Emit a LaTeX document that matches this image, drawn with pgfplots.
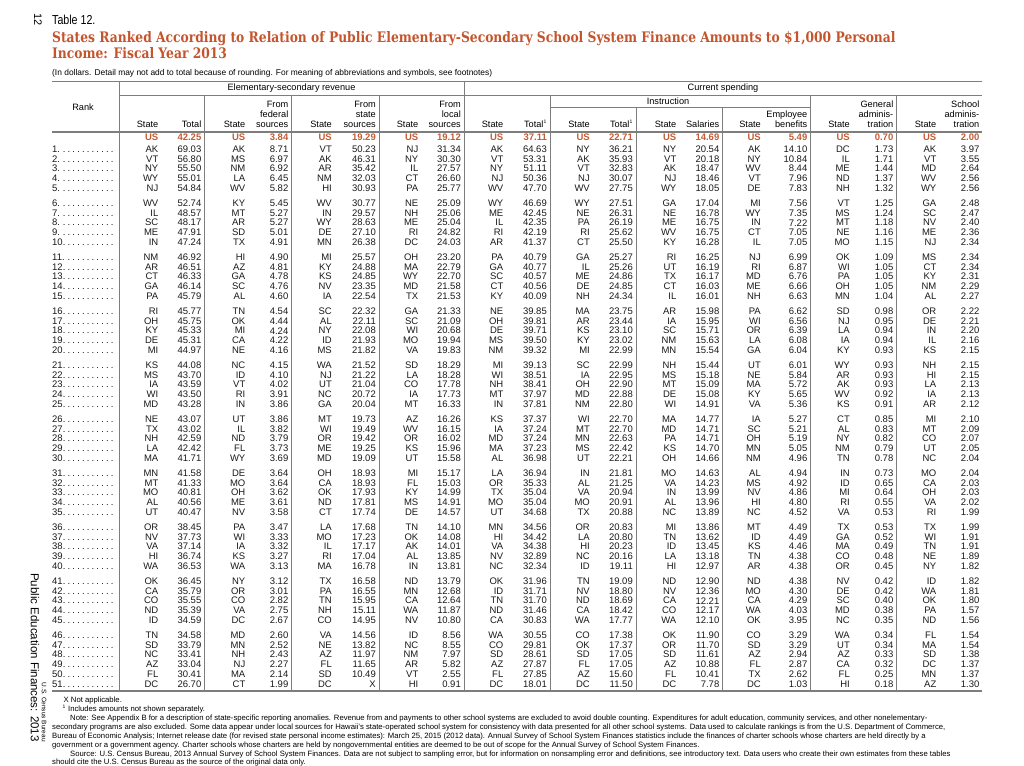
\documentclass[border=0pt]{standalone}
\usepackage{pgfplots}
\usepackage{pgfplotstable}
\pgfplotsset{compat=1.18}
\usepackage{fontspec}
\setmainfont{Liberation Sans}
\newfontfamily\slabfont{DejaVu Serif}
\definecolor{usc}{RGB}{194,92,52}
\definecolor{titlec}{RGB}{196,84,44}
\definecolor{rulec}{RGB}{125,125,125}

\pgfplotstableread{
rank s1 v1 s2 v2 s3 v3 s4 v4 s5 v5 s6 v6 s7 v7 s8 v8 s9 v9 s10 v10
1 AK 69.03 AK 8.71 VT 50.23 NJ 31.34 AK 64.63 NY 36.21 NY 20.54 AK 14.10 DC 1.73 AK 3.97
2 VT 56.80 MS 6.97 AK 46.31 NY 30.30 VT 53.31 AK 35.93 VT 20.18 NY 10.84 IL 1.71 VT 3.55
3 NY 55.50 NM 6.92 AR 35.42 IL 27.57 NY 51.11 VT 32.83 AK 18.47 WV 8.44 ME 1.44 MD 2.64
4 WY 55.01 LA 6.45 NM 32.03 CT 26.60 NJ 50.36 NJ 30.07 NJ 18.46 VT 7.96 ND 1.37 WV 2.56
5 NJ 54.84 WV 5.82 HI 30.93 PA 25.77 WV 47.70 WV 27.75 WY 18.05 DE 7.83 NH 1.32 WY 2.56
6 WV 52.74 KY 5.45 WV 30.77 NE 25.09 WY 46.69 WY 27.51 GA 17.04 MI 7.56 VT 1.25 GA 2.48
7 IL 48.57 MT 5.27 IN 29.57 NH 25.06 ME 42.45 NE 26.31 NE 16.78 WY 7.35 MS 1.24 SC 2.47
8 SC 48.17 AR 5.27 WY 28.63 ME 25.04 IL 42.35 PA 26.19 ME 16.75 IN 7.22 MT 1.18 NV 2.40
9 ME 47.91 SD 5.01 DE 27.10 RI 24.82 RI 42.19 RI 25.62 WV 16.75 CT 7.05 NE 1.16 ME 2.36
10 IN 47.24 TX 4.91 MN 26.38 DC 24.03 AR 41.37 CT 25.50 KY 16.28 IL 7.05 MO 1.15 NJ 2.34
11 NM 46.92 HI 4.90 MI 25.57 OH 23.20 PA 40.79 GA 25.27 RI 16.25 NJ 6.99 OK 1.09 MS 2.34
12 AR 46.51 AZ 4.81 KY 24.88 MA 22.79 GA 40.77 IL 25.26 UT 16.19 RI 6.87 WI 1.05 CT 2.34
13 CT 46.33 GA 4.78 KS 24.85 WY 22.70 SC 40.57 ME 24.86 TX 16.17 MD 6.76 PA 1.05 KY 2.31
14 GA 46.14 SC 4.76 NV 23.35 MD 21.58 CT 40.56 DE 24.85 CT 16.03 ME 6.66 OH 1.05 NM 2.29
15 PA 45.79 AL 4.60 IA 22.54 TX 21.53 KY 40.09 NH 24.34 IL 16.01 NH 6.63 MN 1.04 AL 2.27
16 RI 45.77 TN 4.54 SC 22.32 GA 21.33 NE 39.85 MA 23.75 AR 15.98 PA 6.62 SD 0.98 OR 2.22
17 OH 45.75 OK 4.44 AL 22.11 SC 21.09 OH 39.81 AR 23.44 IA 15.95 WI 6.56 NJ 0.95 DE 2.21
18 KY 45.33 MI 4.24 NY 22.08 WI 20.68 DE 39.71 KS 23.10 SC 15.71 OR 6.39 LA 0.94 IN 2.20
19 DE 45.31 CA 4.22 ID 21.93 MO 19.94 MS 39.50 KY 23.02 NM 15.63 LA 6.08 IA 0.94 IL 2.16
20 MI 44.97 NE 4.16 MS 21.82 VA 19.83 NM 39.32 MI 22.99 MN 15.54 GA 6.04 KY 0.93 KS 2.15
21 KS 44.08 NC 4.15 WA 21.52 SD 18.29 MI 39.13 SC 22.99 NH 15.44 UT 6.01 WY 0.93 NH 2.15
22 MS 43.70 ID 4.10 NJ 21.22 LA 18.28 WI 38.51 IA 22.95 MS 15.18 NE 5.84 AR 0.93 HI 2.15
23 IA 43.59 VT 4.02 UT 21.04 CO 17.78 NH 38.41 OH 22.90 MT 15.09 MA 5.72 AK 0.93 LA 2.13
24 WI 43.50 RI 3.91 NC 20.72 IA 17.73 MT 37.97 MD 22.88 DE 15.08 KY 5.65 WV 0.92 IA 2.13
25 MD 43.28 IN 3.86 GA 20.04 MT 16.33 IN 37.81 NM 22.80 WI 14.91 VA 5.36 KS 0.91 AR 2.12
26 NE 43.07 UT 3.86 MT 19.73 AZ 16.26 KS 37.37 WI 22.70 MA 14.77 IA 5.27 CT 0.85 MI 2.10
27 TX 43.02 IL 3.82 WI 19.49 WV 16.15 IA 37.24 MT 22.70 MD 14.71 SC 5.21 AL 0.83 MT 2.09
28 NH 42.59 ND 3.79 OR 19.42 OR 16.02 MD 37.24 MN 22.63 PA 14.71 OH 5.19 NY 0.82 CO 2.07
29 LA 42.42 FL 3.73 ME 19.25 KS 15.96 MA 37.23 MS 22.42 KS 14.70 MN 5.05 NM 0.79 UT 2.05
30 MA 41.71 WY 3.69 MD 19.09 UT 15.58 AL 36.98 UT 22.21 OH 14.66 NM 4.96 TN 0.78 NC 2.04
31 MN 41.58 DE 3.64 OH 18.93 MI 15.17 LA 36.94 IN 21.81 MO 14.63 AL 4.94 IN 0.73 MO 2.04
32 MT 41.33 MO 3.64 CA 18.93 FL 15.03 OR 35.33 AL 21.25 VA 14.23 MS 4.92 ID 0.65 CA 2.03
33 MO 40.81 OH 3.62 OK 17.93 KY 14.99 TX 35.04 VA 20.94 IN 13.99 NV 4.86 MI 0.64 OH 2.03
34 AL 40.56 ME 3.61 ND 17.81 MS 14.91 MO 35.04 MO 20.91 AL 13.96 HI 4.80 RI 0.55 VA 2.02
35 UT 40.47 NV 3.58 CT 17.74 DE 14.57 UT 34.68 TX 20.88 NC 13.89 NC 4.52 VA 0.53 RI 1.99
36 OR 38.45 PA 3.47 LA 17.68 TN 14.10 MN 34.56 OR 20.83 MI 13.86 MT 4.49 TX 0.53 TX 1.99
37 NV 37.73 WI 3.33 MO 17.23 OK 14.08 HI 34.42 LA 20.80 TN 13.62 ID 4.49 GA 0.52 WI 1.91
38 VA 37.14 IA 3.32 IL 17.17 AK 14.01 VA 34.38 HI 20.23 ID 13.45 KS 4.46 MA 0.49 TN 1.91
39 HI 36.74 KS 3.27 RI 17.04 AL 13.85 NV 32.89 NC 20.16 LA 13.18 TN 4.38 CO 0.48 NE 1.89
40 WA 36.53 WA 3.13 MA 16.78 IN 13.81 NC 32.34 ID 19.11 HI 12.97 AR 4.38 OR 0.45 NY 1.82
41 OK 36.45 NY 3.12 TX 16.58 ND 13.79 OK 31.96 TN 19.09 ND 12.90 ND 4.38 NV 0.42 ID 1.82
42 CA 35.79 OR 3.01 PA 16.55 MN 12.68 ID 31.71 NV 18.80 NV 12.36 MO 4.30 DE 0.42 WA 1.81
43 CO 35.55 CO 2.82 TN 15.95 CA 12.64 TN 31.70 ND 18.69 CA 12.21 CA 4.29 SC 0.40 OK 1.80
44 ND 35.39 VA 2.75 NH 15.11 WA 11.87 ND 31.46 CA 18.42 CO 12.17 WA 4.03 MD 0.38 PA 1.57
45 ID 34.59 DC 2.67 CO 14.95 NV 10.80 CA 30.83 WA 17.77 WA 12.10 OK 3.95 NC 0.35 ND 1.56
46 TN 34.58 MD 2.60 VA 14.56 ID 8.56 WA 30.55 CO 17.38 OK 11.90 CO 3.29 WA 0.34 FL 1.54
47 SD 33.79 MN 2.52 NE 13.82 NC 8.55 CO 29.81 OK 17.37 OR 11.70 SD 3.29 UT 0.34 MA 1.54
48 NC 33.41 NH 2.43 AZ 11.97 NM 7.97 SD 28.61 SD 17.05 SD 11.61 AZ 2.94 AZ 0.33 SD 1.38
49 AZ 33.04 NJ 2.27 FL 11.65 AR 5.82 AZ 27.87 FL 17.05 AZ 10.88 FL 2.87 CA 0.32 DC 1.37
50 FL 30.41 MA 2.14 SD 10.49 VT 2.55 FL 27.85 AZ 15.60 FL 10.41 TX 2.62 FL 0.25 MN 1.37
51 DC 26.70 CT 1.99 DC X HI 0.91 DC 18.01 DC 11.50 DC 7.78 DC 1.03 HI 0.18 AZ 1.30
}\data

\pgfplotstableread{
xs xv st v
158.5 201.5 US 42.25
245.5 288.5 US 3.84
332 376 US 19.29
418.5 461 US 19.12
503.5 547 US 37.11
590 633 US 22.71
676.5 719.5 US 14.69
761 807.5 US 5.49
850 893.5 US 0.70
936.5 979.5 US 2.00
}\usrow

\newcommand{\ry}{149+(\thisrow{rank}-1)*9.85+min(floor((\thisrow{rank}-1)/5+0.05),9)*4.75}
\newcommand{\dfont}{\fontsize{9.5}{11}\selectfont}
\newcommand{\hfont}{\fontsize{9.2}{11}\selectfont}
\newcommand{\ffont}{\fontsize{7.7}{9}\selectfont}

\pgfplotsset{
  cell/.style={only marks, mark=none, point meta=explicit symbolic,
    nodes near coords={\pgfplotspointmeta},
    every node near coord/.append style={anchor=east, inner sep=0pt, font=\dfont, text=black!90}},
  usst/.style={every node near coord/.append style={font=\dfont\bfseries, text=usc}},
}

\begin{document}
\begin{tikzpicture}
\begin{axis}[x=1pt, y=1pt, xmin=0, xmax=1024, ymin=0, ymax=765, y dir=reverse,
  hide axis, clip=false]

% rank column
\addplot[only marks, mark=none, point meta=explicit symbolic,
  nodes near coords={\hbox to 64pt{\pgfplotspointmeta.\leaders\hbox to 4.8pt{\hss.\hss}\hfill}},
  every node near coord/.append style={anchor=west, inner sep=0pt, font=\dfont, text=black!90}]
  table[x expr=52, y expr=\ry, meta=rank]{\data};

\addplot[cell] table[x expr=158.5, y expr=\ry, meta=s1]{\data};
\addplot[cell] table[x expr=201.5, y expr=\ry, meta=v1]{\data};
\addplot[cell] table[x expr=245.5, y expr=\ry, meta=s2]{\data};
\addplot[cell] table[x expr=288.5, y expr=\ry, meta=v2]{\data};
\addplot[cell] table[x expr=332, y expr=\ry, meta=s3]{\data};
\addplot[cell] table[x expr=376, y expr=\ry, meta=v3]{\data};
\addplot[cell] table[x expr=418.5, y expr=\ry, meta=s4]{\data};
\addplot[cell] table[x expr=461, y expr=\ry, meta=v4]{\data};
\addplot[cell] table[x expr=503.5, y expr=\ry, meta=s5]{\data};
\addplot[cell] table[x expr=547, y expr=\ry, meta=v5]{\data};
\addplot[cell] table[x expr=590, y expr=\ry, meta=s6]{\data};
\addplot[cell] table[x expr=633, y expr=\ry, meta=v6]{\data};
\addplot[cell] table[x expr=676.5, y expr=\ry, meta=s7]{\data};
\addplot[cell] table[x expr=719.5, y expr=\ry, meta=v7]{\data};
\addplot[cell] table[x expr=761, y expr=\ry, meta=s8]{\data};
\addplot[cell] table[x expr=807.5, y expr=\ry, meta=v8]{\data};
\addplot[cell] table[x expr=850, y expr=\ry, meta=s9]{\data};
\addplot[cell] table[x expr=893.5, y expr=\ry, meta=v9]{\data};
\addplot[cell] table[x expr=936.5, y expr=\ry, meta=s10]{\data};
\addplot[cell] table[x expr=979.5, y expr=\ry, meta=v10]{\data};

% US row
\addplot[cell, usst] table[x=xs, y expr=137.3, meta=st]{\usrow};
\addplot[cell, usst] table[x=xv, y expr=137.3, meta=v]{\usrow};

% rules
\draw[rulec, line width=1.6pt] (axis cs:52,81.7) -- (axis cs:982,81.7);
\draw[rulec, line width=1.6pt] (axis cs:52,131.7) -- (axis cs:982,131.7);
\draw[rulec, line width=1.6pt] (axis cs:52,690.7) -- (axis cs:982,690.7);
\draw[rulec, line width=0.9pt] (axis cs:119,95) -- (axis cs:982,95);
\draw[rulec, line width=0.9pt] (axis cs:550,107.7) -- (axis cs:810.7,107.7);
\pgfplotsinvokeforeach{119,464}{\draw[rulec, line width=0.9pt] (axis cs:#1,81.7) -- (axis cs:#1,690.7);}
\pgfplotsinvokeforeach{204.3,291.7,379,550,810.7,896.7}{\draw[rulec, line width=0.9pt] (axis cs:#1,95) -- (axis cs:#1,690.7);}
\pgfplotsinvokeforeach{636,722.7}{\draw[rulec, line width=0.9pt] (axis cs:#1,107.7) -- (axis cs:#1,690.7);}

% span headers
\node[font=\hfont, inner sep=0pt] at (axis cs:291.5,88.3) {Elementary-secondary revenue};
\node[font=\hfont, inner sep=0pt] at (axis cs:723,88.3) {Current spending};
\node[font=\hfont, inner sep=0pt] at (axis cs:668,101.5) {Instruction};
\node[font=\hfont, inner sep=0pt] at (axis cs:83,107) {Rank};

% column headers
\pgfplotsinvokeforeach{158.5,245.5,332,418.5,503.5,590,676.5,761,850,936.5}
  {\node[font=\hfont, inner sep=0pt, anchor=base east] at (axis cs:#1,127.7) {State};}
\begin{scope}[every node/.style={font=\hfont, inner sep=0pt, anchor=base east}]
\node at (axis cs:201.5,127.7) {Total};
\node at (axis cs:288.5,108) {From};
\node at (axis cs:288.5,117.7) {federal};
\node at (axis cs:288.5,127.7) {sources};
\node at (axis cs:376,108) {From};
\node at (axis cs:376,117.7) {state};
\node at (axis cs:376,127.7) {sources};
\node at (axis cs:461,108) {From};
\node at (axis cs:461,117.7) {local};
\node at (axis cs:461,127.7) {sources};
\node at (axis cs:547,127.7) {Total\textsuperscript{\fontsize{5}{5}\selectfont 1}};
\node at (axis cs:633,127.7) {Total\textsuperscript{\fontsize{5}{5}\selectfont 1}};
\node at (axis cs:719.5,127.7) {Salaries};
\node at (axis cs:807.5,117.7) {Employee};
\node at (axis cs:807.5,127.7) {benefits};
\node at (axis cs:893.5,108) {General};
\node at (axis cs:893.5,117.7) {adminis-};
\node at (axis cs:893.5,127.7) {tration};
\node at (axis cs:979.5,108) {School};
\node at (axis cs:979.5,117.7) {adminis-};
\node at (axis cs:979.5,127.7) {tration};
\end{scope}

% titles
\node[anchor=base west, inner sep=0pt, xscale=0.82, font=\fontsize{13}{15}\selectfont] at (axis cs:52,24.5) {Table 12.};
\node[anchor=base west, inner sep=0pt, xscale=0.849, font=\slabfont\fontsize{14.5}{16}\selectfont\bfseries, text=titlec] at (axis cs:52,43)
  {States Ranked According to Relation of Public Elementary-Secondary School System Finance Amounts to \$1,000 Personal};
\node[anchor=base west, inner sep=0pt, xscale=0.849, font=\slabfont\fontsize{14.5}{16}\selectfont\bfseries, text=titlec] at (axis cs:52,59)
  {Income: Fiscal Year 2013};
\node[anchor=base west, inner sep=0pt, font=\fontsize{8.4}{10}\selectfont] at (axis cs:52,76)
  {(In dollars. Detail may not add to total because of rounding. For meaning of abbreviations and symbols, see footnotes)};

% side texts
\node[rotate=-90, anchor=base west, inner sep=0pt, font=\fontsize{11}{13}\selectfont] at (axis cs:34,13) {12};
\node[rotate=-90, anchor=east, inner sep=0pt, font=\fontsize{11.5}{13}\selectfont] at (axis cs:35,742) {Public Education Finances: 2013};
\node[rotate=-90, anchor=east, inner sep=0pt, font=\fontsize{6.5}{7}\selectfont] at (axis cs:44,742) {U.S. Census Bureau};

% footnotes
\begin{scope}[every node/.style={font=\ffont, inner sep=0pt, anchor=base west}]
\node at (axis cs:63.5,702.5) {X Not applicable.};
\node at (axis cs:62.5,711.5) {\textsuperscript{\fontsize{5}{5}\selectfont 1} Includes amounts not shown separately.};
\node at (axis cs:70,720.5) {Note: See Appendix B for a description of state-specific reporting anomalies. Revenue from and payments to other school systems are excluded to avoid double counting. Expenditures for adult education, community services, and other nonelementary-};
\node at (axis cs:52,729.5) {secondary programs are also excluded. Some data appear under local sources for Hawaii's state-operated school system for consistency with data presented for all other school systems. Data used to calculate rankings is from the U.S. Department of Commerce,};
\node at (axis cs:52,738.5) {Bureau of Economic Analysis; Internet release date (for revised state personal income estimates): March 25, 2015 (2012 data). Annual Survey of School System Finances statistics include the finances of charter schools whose charters are held directly by a};
\node at (axis cs:52,747.5) {government or a government agency. Charter schools whose charters are held by nongovernmental entities are deemed to be out of scope for the Annual Survey of School System Finances.};
\node at (axis cs:70,756.5) {Source: U.S. Census Bureau, 2013 Annual Survey of School System Finances. Data are not subject to sampling error, but for information on nonsampling error and definitions, see introductory text. Data users who create their own estimates from these tables};
\node at (axis cs:52,764.5) {should cite the U.S. Census Bureau as the source of the original data only.};
\end{scope}
\end{axis}
\pgfresetboundingbox
\path (0,0) rectangle (1024pt,765pt);
\end{tikzpicture}
\end{document}
